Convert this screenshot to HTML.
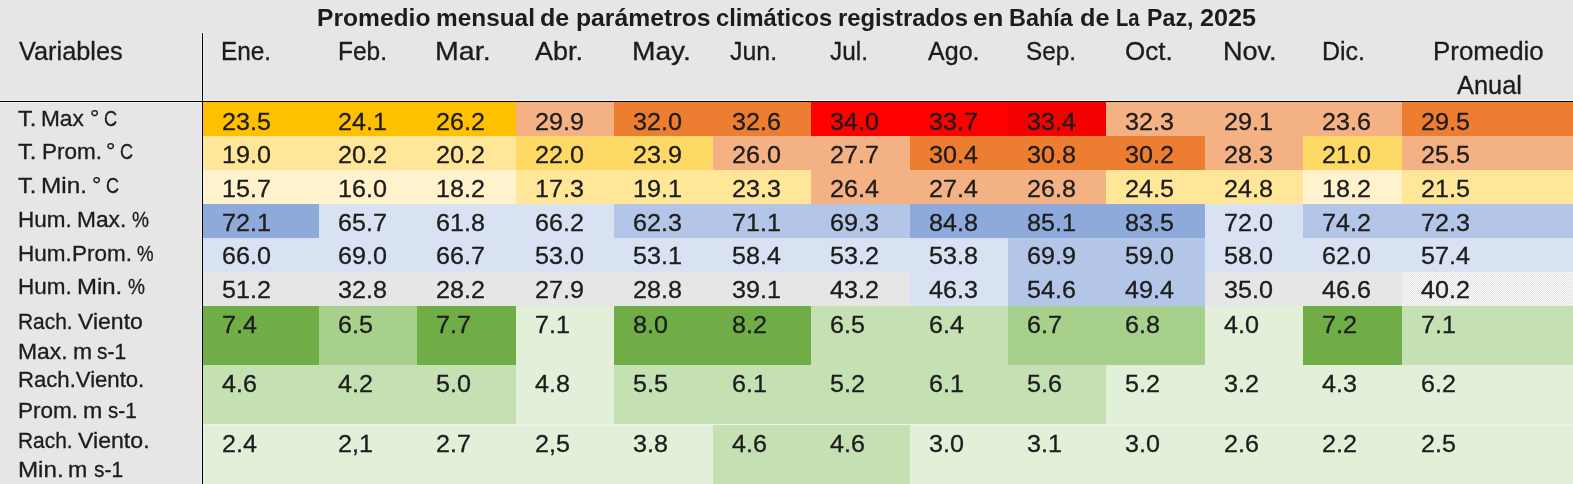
<!DOCTYPE html><html><head><meta charset="utf-8"><title>Tabla</title><style>
html,body{margin:0;padding:0;}
body{width:1573px;height:484px;position:relative;overflow:hidden;background:#e7e6e6;font-family:"Liberation Sans",sans-serif;color:#1c1c1c;}
.c{position:absolute;}
.t{position:absolute;white-space:nowrap;line-height:1;transform-origin:0 0;-webkit-text-stroke:0.3px currentColor;}
</style></head><body>
<svg width="0" height="0" style="position:absolute"><defs><pattern id="rd" width="6" height="4" patternUnits="userSpaceOnUse"><rect width="6" height="4" fill="#ff0000"/><rect x="1" y="0" width="1" height="1" fill="#b80808"/><rect x="4" y="0" width="1" height="1" fill="#b80808"/><rect x="2" y="2" width="1" height="1" fill="#bc0808"/><rect x="5" y="2" width="1" height="1" fill="#bc0808"/></pattern><pattern id="ck" width="2" height="2" patternUnits="userSpaceOnUse"><rect width="2" height="2" fill="#e5e5e5"/><rect x="0" y="0" width="1" height="1" fill="#f8f8f8"/><rect x="1" y="1" width="1" height="1" fill="#f8f8f8"/></pattern></defs></svg>
<div class="c" style="left:203px;top:102px;width:313px;height:34px;background:#ffc000"></div>
<div class="c" style="left:516px;top:102px;width:98px;height:34px;background:#f4b183"></div>
<div class="c" style="left:614px;top:102px;width:197px;height:34px;background:#ed7d31"></div>
<div class="c" style="left:811px;top:102px;width:197px;height:34px;background:#ff0000"></div>
<div class="c" style="left:1008px;top:102px;width:98px;height:34px;background:#ff0000"></div>
<svg class="c" style="left:1008px;top:104px" width="98" height="31"><rect width="100%" height="100%" fill="url(#rd)"/></svg>
<div class="c" style="left:1106px;top:102px;width:296px;height:34px;background:#f4b183"></div>
<div class="c" style="left:1402px;top:102px;width:171px;height:34px;background:#ed7d31"></div>
<div class="c" style="left:203px;top:136px;width:313px;height:34px;background:#ffe699"></div>
<div class="c" style="left:516px;top:136px;width:197px;height:34px;background:#ffd966"></div>
<div class="c" style="left:713px;top:136px;width:197px;height:34px;background:#f4b183"></div>
<div class="c" style="left:910px;top:136px;width:295px;height:34px;background:#ed7d31"></div>
<div class="c" style="left:1205px;top:136px;width:98px;height:34px;background:#f4b183"></div>
<div class="c" style="left:1303px;top:136px;width:99px;height:34px;background:#ffd966"></div>
<div class="c" style="left:1402px;top:136px;width:171px;height:34px;background:#f4b183"></div>
<div class="c" style="left:203px;top:170px;width:313px;height:34px;background:#fff2cc"></div>
<div class="c" style="left:516px;top:170px;width:295px;height:34px;background:#ffe699"></div>
<div class="c" style="left:811px;top:170px;width:295px;height:34px;background:#f4b183"></div>
<div class="c" style="left:1106px;top:170px;width:197px;height:34px;background:#ffe699"></div>
<div class="c" style="left:1303px;top:170px;width:99px;height:34px;background:#fff2cc"></div>
<div class="c" style="left:1402px;top:170px;width:171px;height:34px;background:#ffe699"></div>
<div class="c" style="left:203px;top:204px;width:116px;height:34px;background:#8eaadb"></div>
<div class="c" style="left:319px;top:204px;width:295px;height:34px;background:#d9e2f3"></div>
<div class="c" style="left:614px;top:204px;width:296px;height:34px;background:#b4c6e7"></div>
<div class="c" style="left:910px;top:204px;width:295px;height:34px;background:#8eaadb"></div>
<div class="c" style="left:1205px;top:204px;width:98px;height:34px;background:#d9e2f3"></div>
<div class="c" style="left:1303px;top:204px;width:270px;height:34px;background:#b4c6e7"></div>
<div class="c" style="left:203px;top:238px;width:805px;height:34px;background:#d9e2f3"></div>
<div class="c" style="left:1008px;top:238px;width:197px;height:34px;background:#b4c6e7"></div>
<div class="c" style="left:1205px;top:238px;width:368px;height:34px;background:#d9e2f3"></div>
<div class="c" style="left:910px;top:272px;width:98px;height:34px;background:#d9e2f3"></div>
<div class="c" style="left:1008px;top:272px;width:197px;height:34px;background:#b4c6e7"></div>
<svg class="c" style="left:1402px;top:272px" width="171" height="34"><rect width="100%" height="100%" fill="url(#ck)"/></svg>
<div class="c" style="left:203px;top:306px;width:116px;height:59px;background:#70ad47"></div>
<div class="c" style="left:319px;top:306px;width:98px;height:59px;background:#a8d08d"></div>
<div class="c" style="left:417px;top:306px;width:99px;height:59px;background:#70ad47"></div>
<div class="c" style="left:516px;top:306px;width:98px;height:59px;background:#e2efd9"></div>
<div class="c" style="left:614px;top:306px;width:197px;height:59px;background:#70ad47"></div>
<div class="c" style="left:811px;top:306px;width:197px;height:59px;background:#c5e0b3"></div>
<div class="c" style="left:1008px;top:306px;width:197px;height:59px;background:#a8d08d"></div>
<div class="c" style="left:1205px;top:306px;width:98px;height:59px;background:#e2efd9"></div>
<div class="c" style="left:1303px;top:306px;width:99px;height:59px;background:#70ad47"></div>
<div class="c" style="left:1402px;top:306px;width:171px;height:59px;background:#c5e0b3"></div>
<div class="c" style="left:203px;top:365px;width:313px;height:60px;background:#c5e0b3"></div>
<div class="c" style="left:516px;top:365px;width:98px;height:60px;background:#e2efd9"></div>
<div class="c" style="left:614px;top:365px;width:492px;height:60px;background:#c5e0b3"></div>
<div class="c" style="left:1106px;top:365px;width:467px;height:60px;background:#e2efd9"></div>
<div class="c" style="left:203px;top:425px;width:510px;height:59px;background:#e2efd9"></div>
<div class="c" style="left:713px;top:425px;width:197px;height:59px;background:#c5e0b3"></div>
<div class="c" style="left:910px;top:425px;width:663px;height:59px;background:#e2efd9"></div>
<div class="c" style="left:203px;top:424px;width:1370px;height:1px;background:#f1eff1"></div>
<div class="c" style="left:203px;top:425px;width:510px;height:1px;background:repeating-linear-gradient(90deg,#f1eff1 0,#f1eff1 1px,#e2efd9 1px,#e2efd9 2px)"></div>
<div class="c" style="left:910px;top:425px;width:663px;height:1px;background:repeating-linear-gradient(90deg,#f1eff1 0,#f1eff1 1px,#e2efd9 1px,#e2efd9 2px)"></div>
<div class="c" style="left:0;top:100px;width:1573px;height:1px;background:#f1f1f1"></div>
<div class="c" style="left:0;top:102px;width:202px;height:1px;background:#f1f1f1"></div>
<div class="c" style="left:201px;top:32px;width:1px;height:452px;background:#f1f1f1"></div>
<div class="c" style="left:203px;top:32px;width:1px;height:69px;background:#f1f1f1"></div>
<div class="c" style="left:202px;top:32px;width:1px;height:1px;background:#f1f1f1"></div>
<div class="c" style="left:0;top:101px;width:1573px;height:1px;background:#000"></div>
<div class="c" style="left:202px;top:33px;width:1px;height:451px;background:#000"></div>
<div id="txt" style="position:absolute;left:0;top:0;width:1573px;height:484px;will-change:transform">
<span class="t" id="t0" style="left:317.00px;top:6.70px;font-size:23.40px;font-weight:700;transform:scaleX(1.0518);-webkit-text-stroke:0">Promedio</span>
<span class="t" id="t1" style="left:436.00px;top:6.70px;font-size:23.40px;font-weight:700;transform:scaleX(1.0428);-webkit-text-stroke:0">mensual</span>
<span class="t" id="t2" style="left:540.00px;top:6.70px;font-size:23.40px;font-weight:700;transform:scaleX(1.0727);-webkit-text-stroke:0">de</span>
<span class="t" id="t3" style="left:576.00px;top:6.70px;font-size:23.40px;font-weight:700;transform:scaleX(1.0563);-webkit-text-stroke:0">parámetros</span>
<span class="t" id="t4" style="left:716.00px;top:6.70px;font-size:23.40px;font-weight:700;transform:scaleX(1.0148);-webkit-text-stroke:0">climáticos</span>
<span class="t" id="t5" style="left:838.00px;top:6.70px;font-size:23.40px;font-weight:700;transform:scaleX(1.0196);-webkit-text-stroke:0">registrados</span>
<span class="t" id="t6" style="left:973.00px;top:6.70px;font-size:23.40px;font-weight:700;transform:scaleX(1.1112);-webkit-text-stroke:0">en</span>
<span class="t" id="t7" style="left:1009.00px;top:6.70px;font-size:23.40px;font-weight:700;transform:scaleX(1.0025);-webkit-text-stroke:0">Bahía</span>
<span class="t" id="t8" style="left:1080.00px;top:6.70px;font-size:23.40px;font-weight:700;transform:scaleX(1.0822);-webkit-text-stroke:0">de</span>
<span class="t" id="t9" style="left:1116.00px;top:6.70px;font-size:23.40px;font-weight:700;transform:scaleX(0.8635);-webkit-text-stroke:0">La</span>
<span class="t" id="t10" style="left:1147.00px;top:6.70px;font-size:23.40px;font-weight:700;transform:scaleX(0.9922);-webkit-text-stroke:0">Paz,</span>
<span class="t" id="t11" style="left:1200.00px;top:6.70px;font-size:23.40px;font-weight:700;transform:scaleX(1.0793);-webkit-text-stroke:0">2025</span>
<span class="t" id="vars" style="left:19.00px;top:38.60px;font-size:25.60px;font-weight:400;transform:scaleX(0.9890)">Variables</span>
<span class="t" id="m0" style="left:221.00px;top:38.60px;font-size:25.60px;font-weight:400;transform:scaleX(0.9507)">Ene.</span>
<span class="t" id="m1" style="left:338.00px;top:38.60px;font-size:25.60px;font-weight:400;transform:scaleX(0.9552)">Feb.</span>
<span class="t" id="m2" style="left:435.00px;top:38.60px;font-size:25.60px;font-weight:400;transform:scaleX(1.1166)">Mar.</span>
<span class="t" id="m3" style="left:535.00px;top:38.60px;font-size:25.60px;font-weight:400;transform:scaleX(1.0568)">Abr.</span>
<span class="t" id="m4" style="left:632.00px;top:38.60px;font-size:25.60px;font-weight:400;transform:scaleX(1.1004)">May.</span>
<span class="t" id="m5" style="left:730.00px;top:38.60px;font-size:25.60px;font-weight:400;transform:scaleX(0.9735)">Jun.</span>
<span class="t" id="m6" style="left:830.00px;top:38.60px;font-size:25.60px;font-weight:400;transform:scaleX(0.9526)">Jul.</span>
<span class="t" id="m7" style="left:928.00px;top:38.60px;font-size:25.60px;font-weight:400;transform:scaleX(0.9783)">Ago.</span>
<span class="t" id="m8" style="left:1026.00px;top:38.60px;font-size:25.60px;font-weight:400;transform:scaleX(0.9479)">Sep.</span>
<span class="t" id="m9" style="left:1125.00px;top:38.60px;font-size:25.60px;font-weight:400;transform:scaleX(1.0150)">Oct.</span>
<span class="t" id="m10" style="left:1223.00px;top:38.60px;font-size:25.60px;font-weight:400;transform:scaleX(1.0572)">Nov.</span>
<span class="t" id="m11" style="left:1322.00px;top:38.60px;font-size:25.60px;font-weight:400;transform:scaleX(0.9759)">Dic.</span>
<span class="t" id="prom" style="left:1433.00px;top:38.60px;font-size:25.60px;font-weight:400;transform:scaleX(1.0111)">Promedio</span>
<span class="t" id="anual" style="left:1457.00px;top:72.60px;font-size:25.60px;font-weight:400;transform:scaleX(0.9916)">Anual</span>
<span class="t" id="l0_0" style="left:18.00px;top:108.75px;font-size:21.30px;font-weight:400;transform:scaleX(1.1130)">T.</span>
<span class="t" id="l0_1" style="left:41.00px;top:108.75px;font-size:21.30px;font-weight:400;transform:scaleX(1.0632)">Max</span>
<span class="t" id="l0_2" style="left:90.00px;top:108.75px;font-size:21.30px;font-weight:400;transform:scaleX(1.1038)">°</span>
<span class="t" id="l0_3" style="left:104.00px;top:108.75px;font-size:21.30px;font-weight:400;transform:scaleX(0.8568)">C</span>
<span class="t" id="l1_0" style="left:18.00px;top:141.75px;font-size:21.30px;font-weight:400;transform:scaleX(1.1130)">T.</span>
<span class="t" id="l1_1" style="left:42.00px;top:141.75px;font-size:21.30px;font-weight:400;transform:scaleX(1.0552)">Prom.</span>
<span class="t" id="l1_2" style="left:106.00px;top:141.75px;font-size:21.30px;font-weight:400;transform:scaleX(1.1038)">°</span>
<span class="t" id="l1_3" style="left:120.00px;top:141.75px;font-size:21.30px;font-weight:400;transform:scaleX(0.8492)">C</span>
<span class="t" id="l2_0" style="left:18.00px;top:175.75px;font-size:21.30px;font-weight:400;transform:scaleX(1.1130)">T.</span>
<span class="t" id="l2_1" style="left:41.00px;top:175.75px;font-size:21.30px;font-weight:400;transform:scaleX(1.1407)">Min.</span>
<span class="t" id="l2_2" style="left:92.00px;top:175.75px;font-size:21.30px;font-weight:400;transform:scaleX(1.1038)">°</span>
<span class="t" id="l2_3" style="left:106.00px;top:175.75px;font-size:21.30px;font-weight:400;transform:scaleX(0.8494)">C</span>
<span class="t" id="l3_0" style="left:18.00px;top:209.75px;font-size:21.30px;font-weight:400;transform:scaleX(1.0549)">Hum.</span>
<span class="t" id="l3_1" style="left:77.00px;top:209.75px;font-size:21.30px;font-weight:400;transform:scaleX(1.0664)">Max.</span>
<span class="t" id="l3_2" style="left:132.00px;top:209.75px;font-size:21.30px;font-weight:400;transform:scaleX(0.8957)">%</span>
<span class="t" id="l4_0" style="left:18.00px;top:243.75px;font-size:21.30px;font-weight:400;transform:scaleX(1.0570)">Hum.</span>
<span class="t" id="l4_1" style="left:72.00px;top:243.75px;font-size:21.30px;font-weight:400;transform:scaleX(1.0569)">Prom.</span>
<span class="t" id="l4_2" style="left:137.00px;top:243.75px;font-size:21.30px;font-weight:400;transform:scaleX(0.8772)">%</span>
<span class="t" id="l5_0" style="left:18.00px;top:276.75px;font-size:21.30px;font-weight:400;transform:scaleX(1.0549)">Hum.</span>
<span class="t" id="l5_1" style="left:77.00px;top:276.75px;font-size:21.30px;font-weight:400;transform:scaleX(1.1253)">Min.</span>
<span class="t" id="l5_2" style="left:128.00px;top:276.75px;font-size:21.30px;font-weight:400;transform:scaleX(0.8957)">%</span>
<span class="t" id="l6_0" style="left:18.00px;top:311.75px;font-size:21.30px;font-weight:400;transform:scaleX(0.9824)">Rach.</span>
<span class="t" id="l6_1" style="left:78.00px;top:311.75px;font-size:21.30px;font-weight:400;transform:scaleX(1.0813)">Viento</span>
<span class="t" id="l7_0" style="left:18.00px;top:341.75px;font-size:21.30px;font-weight:400;transform:scaleX(1.0729)">Max.</span>
<span class="t" id="l7_1" style="left:73.00px;top:341.75px;font-size:21.30px;font-weight:400;transform:scaleX(1.0762)">m</span>
<span class="t" id="l7_2" style="left:97.00px;top:341.75px;font-size:21.30px;font-weight:400;transform:scaleX(0.9867)">s-1</span>
<span class="t" id="l8_0" style="left:18.00px;top:369.75px;font-size:21.30px;font-weight:400;transform:scaleX(1.0388)">Rach.Viento.</span>
<span class="t" id="l9_0" style="left:18.00px;top:400.75px;font-size:21.30px;font-weight:400;transform:scaleX(1.0570)">Prom.</span>
<span class="t" id="l9_1" style="left:83.00px;top:400.75px;font-size:21.30px;font-weight:400;transform:scaleX(1.0865)">m</span>
<span class="t" id="l9_2" style="left:108.00px;top:400.75px;font-size:21.30px;font-weight:400;transform:scaleX(0.9675)">s-1</span>
<span class="t" id="l10_0" style="left:18.00px;top:430.75px;font-size:21.30px;font-weight:400;transform:scaleX(0.9824)">Rach.</span>
<span class="t" id="l10_1" style="left:78.00px;top:430.75px;font-size:21.30px;font-weight:400;transform:scaleX(1.0856)">Viento.</span>
<span class="t" id="l11_0" style="left:18.00px;top:459.75px;font-size:21.30px;font-weight:400;transform:scaleX(1.1337)">Min.</span>
<span class="t" id="l11_1" style="left:68.00px;top:459.75px;font-size:21.30px;font-weight:400;transform:scaleX(1.0865)">m</span>
<span class="t" id="l11_2" style="left:94.00px;top:459.75px;font-size:21.30px;font-weight:400;transform:scaleX(0.9814)">s-1</span>
<span class="t" id="d0_0" style="left:222.00px;top:109.55px;font-size:24.70px;font-weight:400;transform:scaleX(1.0190)">23.5</span>
<span class="t" id="d0_1" style="left:338.00px;top:109.55px;font-size:24.70px;font-weight:400;transform:scaleX(1.0190)">24.1</span>
<span class="t" id="d0_2" style="left:436.00px;top:109.55px;font-size:24.70px;font-weight:400;transform:scaleX(1.0190)">26.2</span>
<span class="t" id="d0_3" style="left:535.00px;top:109.55px;font-size:24.70px;font-weight:400;transform:scaleX(1.0190)">29.9</span>
<span class="t" id="d0_4" style="left:633.00px;top:109.55px;font-size:24.70px;font-weight:400;transform:scaleX(1.0190)">32.0</span>
<span class="t" id="d0_5" style="left:732.00px;top:109.55px;font-size:24.70px;font-weight:400;transform:scaleX(1.0190)">32.6</span>
<span class="t" id="d0_6" style="left:830.00px;top:109.55px;font-size:24.70px;font-weight:400;transform:scaleX(1.0190)">34.0</span>
<span class="t" id="d0_7" style="left:929.00px;top:109.55px;font-size:24.70px;font-weight:400;transform:scaleX(1.0190)">33.7</span>
<span class="t" id="d0_8" style="left:1027.00px;top:109.55px;font-size:24.70px;font-weight:400;transform:scaleX(1.0190)">33.4</span>
<span class="t" id="d0_9" style="left:1125.00px;top:109.55px;font-size:24.70px;font-weight:400;transform:scaleX(1.0190)">32.3</span>
<span class="t" id="d0_10" style="left:1224.00px;top:109.55px;font-size:24.70px;font-weight:400;transform:scaleX(1.0190)">29.1</span>
<span class="t" id="d0_11" style="left:1322.00px;top:109.55px;font-size:24.70px;font-weight:400;transform:scaleX(1.0190)">23.6</span>
<span class="t" id="d0_12" style="left:1421.00px;top:109.55px;font-size:24.70px;font-weight:400;transform:scaleX(1.0190)">29.5</span>
<span class="t" id="d1_0" style="left:222.00px;top:142.55px;font-size:24.70px;font-weight:400;transform:scaleX(1.0190)">19.0</span>
<span class="t" id="d1_1" style="left:338.00px;top:142.55px;font-size:24.70px;font-weight:400;transform:scaleX(1.0190)">20.2</span>
<span class="t" id="d1_2" style="left:436.00px;top:142.55px;font-size:24.70px;font-weight:400;transform:scaleX(1.0190)">20.2</span>
<span class="t" id="d1_3" style="left:535.00px;top:142.55px;font-size:24.70px;font-weight:400;transform:scaleX(1.0190)">22.0</span>
<span class="t" id="d1_4" style="left:633.00px;top:142.55px;font-size:24.70px;font-weight:400;transform:scaleX(1.0190)">23.9</span>
<span class="t" id="d1_5" style="left:732.00px;top:142.55px;font-size:24.70px;font-weight:400;transform:scaleX(1.0190)">26.0</span>
<span class="t" id="d1_6" style="left:830.00px;top:142.55px;font-size:24.70px;font-weight:400;transform:scaleX(1.0190)">27.7</span>
<span class="t" id="d1_7" style="left:929.00px;top:142.55px;font-size:24.70px;font-weight:400;transform:scaleX(1.0190)">30.4</span>
<span class="t" id="d1_8" style="left:1027.00px;top:142.55px;font-size:24.70px;font-weight:400;transform:scaleX(1.0190)">30.8</span>
<span class="t" id="d1_9" style="left:1125.00px;top:142.55px;font-size:24.70px;font-weight:400;transform:scaleX(1.0190)">30.2</span>
<span class="t" id="d1_10" style="left:1224.00px;top:142.55px;font-size:24.70px;font-weight:400;transform:scaleX(1.0190)">28.3</span>
<span class="t" id="d1_11" style="left:1322.00px;top:142.55px;font-size:24.70px;font-weight:400;transform:scaleX(1.0190)">21.0</span>
<span class="t" id="d1_12" style="left:1421.00px;top:142.55px;font-size:24.70px;font-weight:400;transform:scaleX(1.0190)">25.5</span>
<span class="t" id="d2_0" style="left:222.00px;top:176.55px;font-size:24.70px;font-weight:400;transform:scaleX(1.0190)">15.7</span>
<span class="t" id="d2_1" style="left:338.00px;top:176.55px;font-size:24.70px;font-weight:400;transform:scaleX(1.0190)">16.0</span>
<span class="t" id="d2_2" style="left:436.00px;top:176.55px;font-size:24.70px;font-weight:400;transform:scaleX(1.0190)">18.2</span>
<span class="t" id="d2_3" style="left:535.00px;top:176.55px;font-size:24.70px;font-weight:400;transform:scaleX(1.0190)">17.3</span>
<span class="t" id="d2_4" style="left:633.00px;top:176.55px;font-size:24.70px;font-weight:400;transform:scaleX(1.0190)">19.1</span>
<span class="t" id="d2_5" style="left:732.00px;top:176.55px;font-size:24.70px;font-weight:400;transform:scaleX(1.0190)">23.3</span>
<span class="t" id="d2_6" style="left:830.00px;top:176.55px;font-size:24.70px;font-weight:400;transform:scaleX(1.0190)">26.4</span>
<span class="t" id="d2_7" style="left:929.00px;top:176.55px;font-size:24.70px;font-weight:400;transform:scaleX(1.0190)">27.4</span>
<span class="t" id="d2_8" style="left:1027.00px;top:176.55px;font-size:24.70px;font-weight:400;transform:scaleX(1.0190)">26.8</span>
<span class="t" id="d2_9" style="left:1125.00px;top:176.55px;font-size:24.70px;font-weight:400;transform:scaleX(1.0190)">24.5</span>
<span class="t" id="d2_10" style="left:1224.00px;top:176.55px;font-size:24.70px;font-weight:400;transform:scaleX(1.0190)">24.8</span>
<span class="t" id="d2_11" style="left:1322.00px;top:176.55px;font-size:24.70px;font-weight:400;transform:scaleX(1.0190)">18.2</span>
<span class="t" id="d2_12" style="left:1421.00px;top:176.55px;font-size:24.70px;font-weight:400;transform:scaleX(1.0190)">21.5</span>
<span class="t" id="d3_0" style="left:222.00px;top:210.55px;font-size:24.70px;font-weight:400;transform:scaleX(1.0190)">72.1</span>
<span class="t" id="d3_1" style="left:338.00px;top:210.55px;font-size:24.70px;font-weight:400;transform:scaleX(1.0190)">65.7</span>
<span class="t" id="d3_2" style="left:436.00px;top:210.55px;font-size:24.70px;font-weight:400;transform:scaleX(1.0190)">61.8</span>
<span class="t" id="d3_3" style="left:535.00px;top:210.55px;font-size:24.70px;font-weight:400;transform:scaleX(1.0190)">66.2</span>
<span class="t" id="d3_4" style="left:633.00px;top:210.55px;font-size:24.70px;font-weight:400;transform:scaleX(1.0190)">62.3</span>
<span class="t" id="d3_5" style="left:732.00px;top:210.55px;font-size:24.70px;font-weight:400;transform:scaleX(1.0190)">71.1</span>
<span class="t" id="d3_6" style="left:830.00px;top:210.55px;font-size:24.70px;font-weight:400;transform:scaleX(1.0190)">69.3</span>
<span class="t" id="d3_7" style="left:929.00px;top:210.55px;font-size:24.70px;font-weight:400;transform:scaleX(1.0190)">84.8</span>
<span class="t" id="d3_8" style="left:1027.00px;top:210.55px;font-size:24.70px;font-weight:400;transform:scaleX(1.0190)">85.1</span>
<span class="t" id="d3_9" style="left:1125.00px;top:210.55px;font-size:24.70px;font-weight:400;transform:scaleX(1.0190)">83.5</span>
<span class="t" id="d3_10" style="left:1224.00px;top:210.55px;font-size:24.70px;font-weight:400;transform:scaleX(1.0190)">72.0</span>
<span class="t" id="d3_11" style="left:1322.00px;top:210.55px;font-size:24.70px;font-weight:400;transform:scaleX(1.0190)">74.2</span>
<span class="t" id="d3_12" style="left:1421.00px;top:210.55px;font-size:24.70px;font-weight:400;transform:scaleX(1.0190)">72.3</span>
<span class="t" id="d4_0" style="left:222.00px;top:243.55px;font-size:24.70px;font-weight:400;transform:scaleX(1.0190)">66.0</span>
<span class="t" id="d4_1" style="left:338.00px;top:243.55px;font-size:24.70px;font-weight:400;transform:scaleX(1.0190)">69.0</span>
<span class="t" id="d4_2" style="left:436.00px;top:243.55px;font-size:24.70px;font-weight:400;transform:scaleX(1.0190)">66.7</span>
<span class="t" id="d4_3" style="left:535.00px;top:243.55px;font-size:24.70px;font-weight:400;transform:scaleX(1.0190)">53.0</span>
<span class="t" id="d4_4" style="left:633.00px;top:243.55px;font-size:24.70px;font-weight:400;transform:scaleX(1.0190)">53.1</span>
<span class="t" id="d4_5" style="left:732.00px;top:243.55px;font-size:24.70px;font-weight:400;transform:scaleX(1.0190)">58.4</span>
<span class="t" id="d4_6" style="left:830.00px;top:243.55px;font-size:24.70px;font-weight:400;transform:scaleX(1.0190)">53.2</span>
<span class="t" id="d4_7" style="left:929.00px;top:243.55px;font-size:24.70px;font-weight:400;transform:scaleX(1.0190)">53.8</span>
<span class="t" id="d4_8" style="left:1027.00px;top:243.55px;font-size:24.70px;font-weight:400;transform:scaleX(1.0190)">69.9</span>
<span class="t" id="d4_9" style="left:1125.00px;top:243.55px;font-size:24.70px;font-weight:400;transform:scaleX(1.0190)">59.0</span>
<span class="t" id="d4_10" style="left:1224.00px;top:243.55px;font-size:24.70px;font-weight:400;transform:scaleX(1.0190)">58.0</span>
<span class="t" id="d4_11" style="left:1322.00px;top:243.55px;font-size:24.70px;font-weight:400;transform:scaleX(1.0190)">62.0</span>
<span class="t" id="d4_12" style="left:1421.00px;top:243.55px;font-size:24.70px;font-weight:400;transform:scaleX(1.0190)">57.4</span>
<span class="t" id="d5_0" style="left:222.00px;top:277.55px;font-size:24.70px;font-weight:400;transform:scaleX(1.0190)">51.2</span>
<span class="t" id="d5_1" style="left:338.00px;top:277.55px;font-size:24.70px;font-weight:400;transform:scaleX(1.0190)">32.8</span>
<span class="t" id="d5_2" style="left:436.00px;top:277.55px;font-size:24.70px;font-weight:400;transform:scaleX(1.0190)">28.2</span>
<span class="t" id="d5_3" style="left:535.00px;top:277.55px;font-size:24.70px;font-weight:400;transform:scaleX(1.0190)">27.9</span>
<span class="t" id="d5_4" style="left:633.00px;top:277.55px;font-size:24.70px;font-weight:400;transform:scaleX(1.0190)">28.8</span>
<span class="t" id="d5_5" style="left:732.00px;top:277.55px;font-size:24.70px;font-weight:400;transform:scaleX(1.0190)">39.1</span>
<span class="t" id="d5_6" style="left:830.00px;top:277.55px;font-size:24.70px;font-weight:400;transform:scaleX(1.0190)">43.2</span>
<span class="t" id="d5_7" style="left:929.00px;top:277.55px;font-size:24.70px;font-weight:400;transform:scaleX(1.0190)">46.3</span>
<span class="t" id="d5_8" style="left:1027.00px;top:277.55px;font-size:24.70px;font-weight:400;transform:scaleX(1.0190)">54.6</span>
<span class="t" id="d5_9" style="left:1125.00px;top:277.55px;font-size:24.70px;font-weight:400;transform:scaleX(1.0190)">49.4</span>
<span class="t" id="d5_10" style="left:1224.00px;top:277.55px;font-size:24.70px;font-weight:400;transform:scaleX(1.0190)">35.0</span>
<span class="t" id="d5_11" style="left:1322.00px;top:277.55px;font-size:24.70px;font-weight:400;transform:scaleX(1.0190)">46.6</span>
<span class="t" id="d5_12" style="left:1421.00px;top:277.55px;font-size:24.70px;font-weight:400;transform:scaleX(1.0190)">40.2</span>
<span class="t" id="d6_0" style="left:222.00px;top:312.55px;font-size:24.70px;font-weight:400;transform:scaleX(1.0190)">7.4</span>
<span class="t" id="d6_1" style="left:338.00px;top:312.55px;font-size:24.70px;font-weight:400;transform:scaleX(1.0190)">6.5</span>
<span class="t" id="d6_2" style="left:436.00px;top:312.55px;font-size:24.70px;font-weight:400;transform:scaleX(1.0190)">7.7</span>
<span class="t" id="d6_3" style="left:535.00px;top:312.55px;font-size:24.70px;font-weight:400;transform:scaleX(1.0190)">7.1</span>
<span class="t" id="d6_4" style="left:633.00px;top:312.55px;font-size:24.70px;font-weight:400;transform:scaleX(1.0190)">8.0</span>
<span class="t" id="d6_5" style="left:732.00px;top:312.55px;font-size:24.70px;font-weight:400;transform:scaleX(1.0190)">8.2</span>
<span class="t" id="d6_6" style="left:830.00px;top:312.55px;font-size:24.70px;font-weight:400;transform:scaleX(1.0190)">6.5</span>
<span class="t" id="d6_7" style="left:929.00px;top:312.55px;font-size:24.70px;font-weight:400;transform:scaleX(1.0190)">6.4</span>
<span class="t" id="d6_8" style="left:1027.00px;top:312.55px;font-size:24.70px;font-weight:400;transform:scaleX(1.0190)">6.7</span>
<span class="t" id="d6_9" style="left:1125.00px;top:312.55px;font-size:24.70px;font-weight:400;transform:scaleX(1.0190)">6.8</span>
<span class="t" id="d6_10" style="left:1224.00px;top:312.55px;font-size:24.70px;font-weight:400;transform:scaleX(1.0190)">4.0</span>
<span class="t" id="d6_11" style="left:1322.00px;top:312.55px;font-size:24.70px;font-weight:400;transform:scaleX(1.0190)">7.2</span>
<span class="t" id="d6_12" style="left:1421.00px;top:312.55px;font-size:24.70px;font-weight:400;transform:scaleX(1.0190)">7.1</span>
<span class="t" id="d7_0" style="left:222.00px;top:371.55px;font-size:24.70px;font-weight:400;transform:scaleX(1.0190)">4.6</span>
<span class="t" id="d7_1" style="left:338.00px;top:371.55px;font-size:24.70px;font-weight:400;transform:scaleX(1.0190)">4.2</span>
<span class="t" id="d7_2" style="left:436.00px;top:371.55px;font-size:24.70px;font-weight:400;transform:scaleX(1.0190)">5.0</span>
<span class="t" id="d7_3" style="left:535.00px;top:371.55px;font-size:24.70px;font-weight:400;transform:scaleX(1.0190)">4.8</span>
<span class="t" id="d7_4" style="left:633.00px;top:371.55px;font-size:24.70px;font-weight:400;transform:scaleX(1.0190)">5.5</span>
<span class="t" id="d7_5" style="left:732.00px;top:371.55px;font-size:24.70px;font-weight:400;transform:scaleX(1.0190)">6.1</span>
<span class="t" id="d7_6" style="left:830.00px;top:371.55px;font-size:24.70px;font-weight:400;transform:scaleX(1.0190)">5.2</span>
<span class="t" id="d7_7" style="left:929.00px;top:371.55px;font-size:24.70px;font-weight:400;transform:scaleX(1.0190)">6.1</span>
<span class="t" id="d7_8" style="left:1027.00px;top:371.55px;font-size:24.70px;font-weight:400;transform:scaleX(1.0190)">5.6</span>
<span class="t" id="d7_9" style="left:1125.00px;top:371.55px;font-size:24.70px;font-weight:400;transform:scaleX(1.0190)">5.2</span>
<span class="t" id="d7_10" style="left:1224.00px;top:371.55px;font-size:24.70px;font-weight:400;transform:scaleX(1.0190)">3.2</span>
<span class="t" id="d7_11" style="left:1322.00px;top:371.55px;font-size:24.70px;font-weight:400;transform:scaleX(1.0190)">4.3</span>
<span class="t" id="d7_12" style="left:1421.00px;top:371.55px;font-size:24.70px;font-weight:400;transform:scaleX(1.0190)">6.2</span>
<span class="t" id="d8_0" style="left:222.00px;top:431.55px;font-size:24.70px;font-weight:400;transform:scaleX(1.0190)">2.4</span>
<span class="t" id="d8_1" style="left:338.00px;top:431.55px;font-size:24.70px;font-weight:400;transform:scaleX(1.0190)">2,1</span>
<span class="t" id="d8_2" style="left:436.00px;top:431.55px;font-size:24.70px;font-weight:400;transform:scaleX(1.0190)">2.7</span>
<span class="t" id="d8_3" style="left:535.00px;top:431.55px;font-size:24.70px;font-weight:400;transform:scaleX(1.0190)">2,5</span>
<span class="t" id="d8_4" style="left:633.00px;top:431.55px;font-size:24.70px;font-weight:400;transform:scaleX(1.0190)">3.8</span>
<span class="t" id="d8_5" style="left:732.00px;top:431.55px;font-size:24.70px;font-weight:400;transform:scaleX(1.0190)">4.6</span>
<span class="t" id="d8_6" style="left:830.00px;top:431.55px;font-size:24.70px;font-weight:400;transform:scaleX(1.0190)">4.6</span>
<span class="t" id="d8_7" style="left:929.00px;top:431.55px;font-size:24.70px;font-weight:400;transform:scaleX(1.0190)">3.0</span>
<span class="t" id="d8_8" style="left:1027.00px;top:431.55px;font-size:24.70px;font-weight:400;transform:scaleX(1.0190)">3.1</span>
<span class="t" id="d8_9" style="left:1125.00px;top:431.55px;font-size:24.70px;font-weight:400;transform:scaleX(1.0190)">3.0</span>
<span class="t" id="d8_10" style="left:1224.00px;top:431.55px;font-size:24.70px;font-weight:400;transform:scaleX(1.0190)">2.6</span>
<span class="t" id="d8_11" style="left:1322.00px;top:431.55px;font-size:24.70px;font-weight:400;transform:scaleX(1.0190)">2.2</span>
<span class="t" id="d8_12" style="left:1421.00px;top:431.55px;font-size:24.70px;font-weight:400;transform:scaleX(1.0190)">2.5</span>
</div>
</body></html>
